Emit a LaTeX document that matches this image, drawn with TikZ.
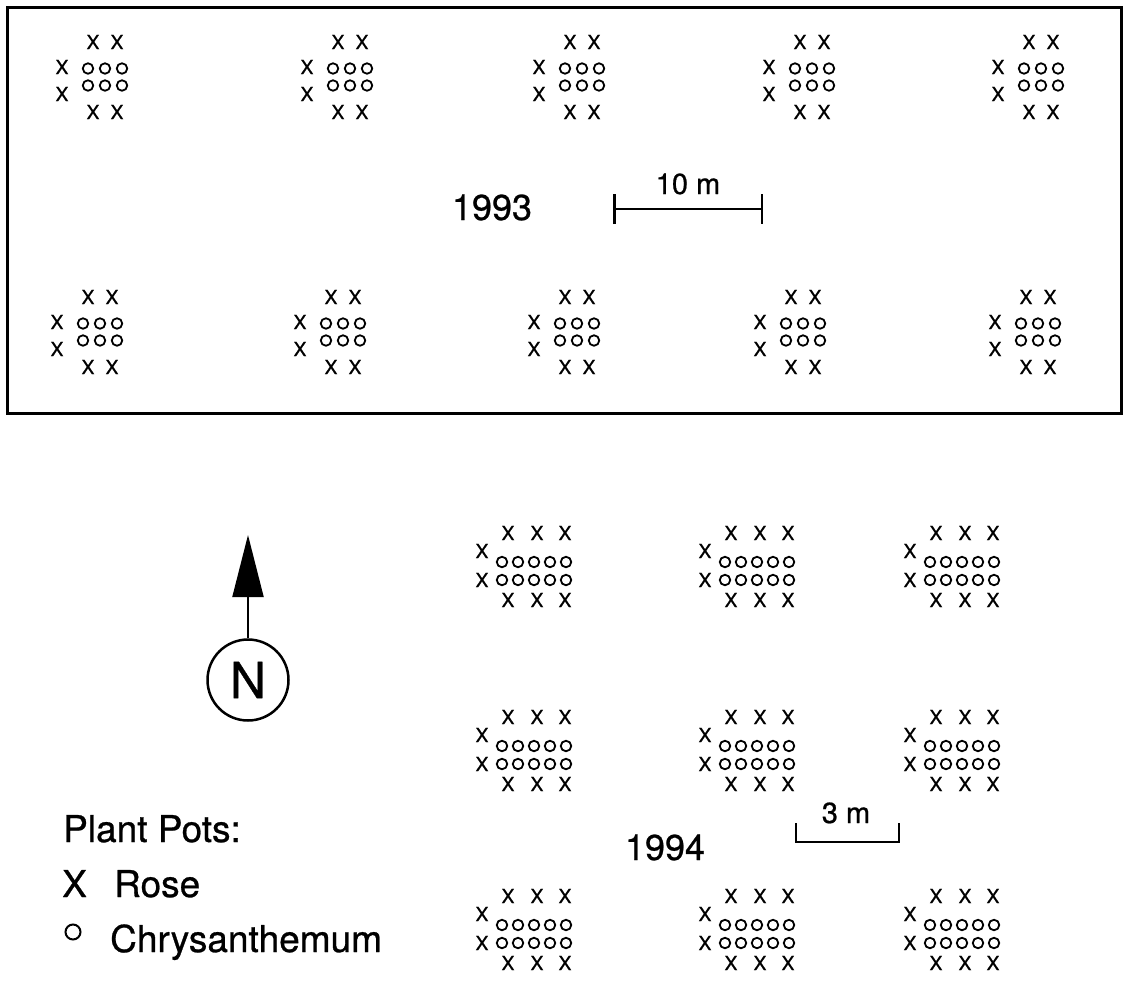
\documentclass[tikz,border=0pt]{standalone}
\usepackage{fontspec}
\setmainfont{TeX Gyre Heros}[FakeBold=0.7]
\usetikzlibrary{arrows.meta}

\tikzset{
  rose/.style={inner sep=0pt, font=\fontsize{19.5}{19.5}\selectfont},
  mum/.style={circle, draw, line width=1.8pt, inner sep=0pt, minimum size=10.5pt},
  year/.style={anchor=base, inner sep=0pt, font=\fontsize{36}{36}\selectfont},
  scaletext/.style={anchor=base, inner sep=0pt, font=\fontsize{29}{29}\selectfont},
  legend/.style={anchor=base west, inner sep=0pt, font=\fontsize{37}{37}\selectfont},
  % 1993 bed: 2 + 2 + 2 roses round 6 chrysanthemums
  pics/bedold/.style={code={
    \node[rose] (-t1) at (-12,-35) {X};
    \node[rose] (-t2) at (12,-35) {X};
    \node[rose] (-l1) at (-43,-10) {X};
    \node[rose] (-l2) at (-43,17) {X};
    \foreach \k/\cx in {1/-17,2/0,3/17} {
      \node[mum] (-a\k) at (\cx,-8.5) {};
      \node[mum] (-b\k) at (\cx,8.5) {};
    }
    \node[rose] (-d1) at (-12,35) {X};
    \node[rose] (-d2) at (12,35) {X};
  }},
  % 1994 bed: 3 + 2 + 3 roses round 10 chrysanthemums
  pics/bednew/.style={code={
    \foreach \k/\cx in {1/-26,2/3,3/31} {
      \node[rose] (-t\k) at (\cx,-38) {X};
      \node[rose] (-d\k) at (\cx,29) {X};
    }
    \node[rose] (-l1) at (-52,-20) {X};
    \node[rose] (-l2) at (-52,9) {X};
    \foreach \k/\cx in {1/-32,2/-16,3/0,4/16,5/32} {
      \node[mum] (-a\k) at (\cx,-9) {};
      \node[mum] (-b\k) at (\cx,9) {};
    }
  }},
}

\begin{document}
\begin{tikzpicture}[x=1pt, y=-1pt]
\useasboundingbox (0,0) rectangle (1124,980);

% 1993 field
\draw[line width=3pt] (7,7) rectangle (1121,413);

\foreach \n/\px in {1/105,2/350,3/582,4/812,5/1041}
  \pic (old-n\n) at (\px,77) {bedold};
\foreach \n/\px in {1/100,2/343,3/577,4/803,5/1038}
  \pic (old-s\n) at (\px,332) {bedold};

\node[year] (y93) at (492,220) {1993};

% 10 m scale bar
\coordinate (s10a) at (613,209);
\coordinate (s10b) at (763,209);
\draw[line width=2.5pt, {Bar[width=30pt]}-{Bar[width=30pt]}] (s10a) -- (s10b);
\node[scaletext] (l10) at (688,194) {10 m};

% 1994 field
\foreach \r/\py in {1/571,2/755,3/934}
  \foreach \c/\px in {1/534,2/757,3/962}
    \pic (new-\r\c) at (\px,\py) {bednew};

\node[year] (y94) at (665,860) {1994};

% 3 m scale bar
\coordinate (s3a) at (796,823);
\coordinate (s3b) at (796,842);
\coordinate (s3c) at (899,842);
\coordinate (s3d) at (899,823);
\draw[line width=2.2pt] (s3a) -- (s3b) -- (s3c) -- (s3d);
\node[scaletext] (l3) at (846,823) {3 m};

% North arrow
\node[draw, circle, line width=2.5pt, minimum size=81pt, inner sep=0pt,
      font=\fontsize{50}{50}\selectfont] (compass) at (248,680) {N};
\coordinate (tip) at (248,535);
\draw[line width=2pt, -{Triangle[length=62pt,width=31pt]}] (compass) -- (tip);

% Legend
\node[legend] (pots) at (63,842) {Plant Pots:};
\node[legend] (keyx) at (62,897) {X};
\node[legend] (rose) at (114,897) {Rose};
\node[circle, draw, line width=2pt, minimum size=15pt, inner sep=0pt] (keyo) at (73,932) {};
\node[legend] (mums) at (110,952) {Chrysanthemum};

\end{tikzpicture}
\end{document}
